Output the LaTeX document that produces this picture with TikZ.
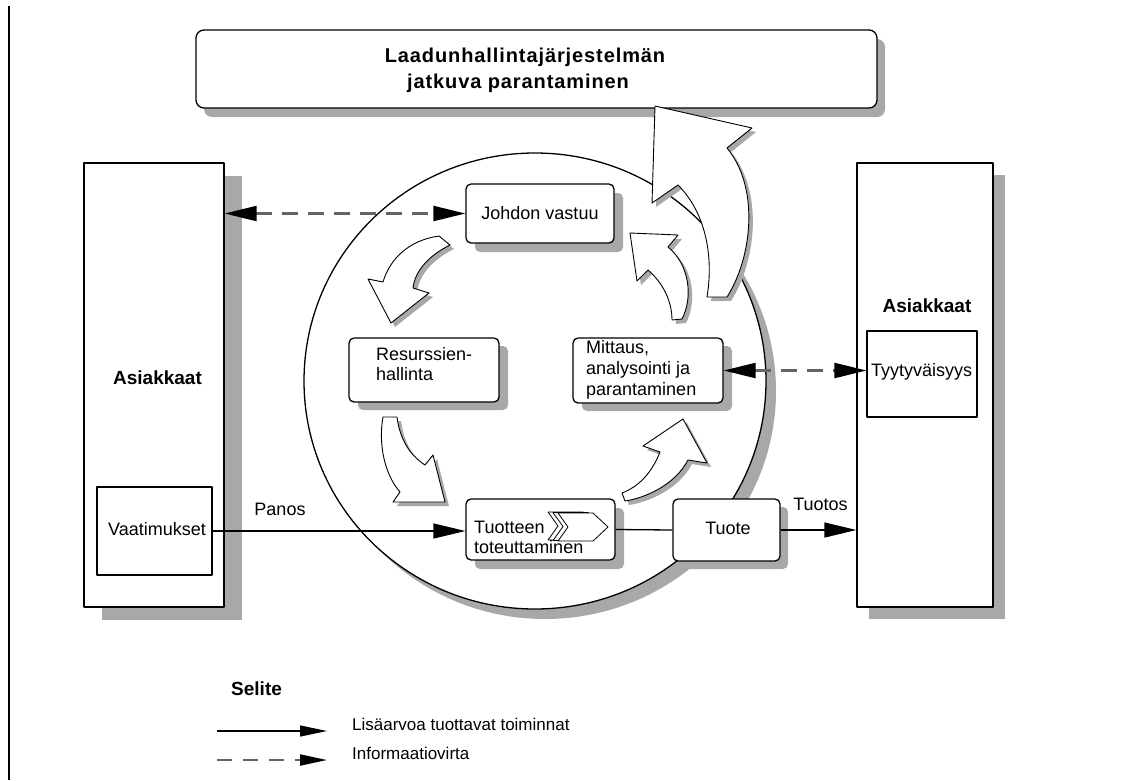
\documentclass[tikz,border=0pt]{standalone}
\usepackage{fontspec}
\setmainfont{Liberation Sans}
\newfontfamily\titlefont[LetterSpace=4.5]{Liberation Sans}
\usetikzlibrary{arrows.meta,shadows}
\definecolor{shadowgray}{RGB}{168,168,168}
\definecolor{dashgray}{RGB}{100,100,100}
\newcommand\blkarrow[1]{\fill[arrowshadow] #1; \draw[blockarrow] #1;}
\newcommand\chevpath[2]{(#1,#2) -- ++(35,0) -- ++(15,14) -- ++(-15,14) -- ++(-35,0) -- ++(10,-14) -- cycle}
\begin{document}
\begin{tikzpicture}[x=1pt,y=-1pt,line join=round,
  txt/.style={font=\fontsize{18}{21}\selectfont, inner sep=0pt},
  btxt/.style={font=\fontsize{19}{22}\selectfont\bfseries, inner sep=0pt},
  titletxt/.style={font=\fontsize{20}{23}\selectfont\titlefont\bfseries, inner sep=0pt},
  legtxt/.style={font=\fontsize{17}{20}\selectfont, inner sep=0pt},
  shad/.style 2 args={drop shadow={shadow xshift=#1pt, shadow yshift=-#2pt, fill=shadowgray, opacity=1}},
  plainbox/.style={draw, line width=1.3pt, fill=white, inner sep=0pt},
  procbox/.style={plainbox, rounded corners=5pt},
  blockarrow/.style={draw, line width=0.9pt, fill=white},
  arrowshadow/.style={fill=shadowgray, shift={(4,4)}},
  chevron/.style={draw, line width=0.8pt, fill=white},
  flowline/.style={line width=1.3pt, >={Triangle[length=32pt,width=15pt,color=black]}},
  infoline/.style={flowline, line width=2.2pt, draw=dashgray, dash pattern=on 16pt off 10pt},
  legflow/.style={line width=1.3pt, >={Triangle[length=27pt,width=11pt,color=black]}},
  leginfo/.style={legflow, line width=2.2pt, draw=dashgray, dash pattern=on 15pt off 11pt}
]
\useasboundingbox (0,0) rectangle (1140,780);
\fill[white] (0,0) rectangle (1140,780);

% left margin rule
\draw[line width=2pt] (8.5,6) -- (8.5,780);

% title box
\node[procbox, rounded corners=8pt, shad={8}{9}, minimum width=681pt, minimum height=78pt] (title) at (536.5,69) {};
\node[titletxt, anchor=base] (titleA) at (525,62.5) {Laadunhallintajärjestelmän};
\node[titletxt, anchor=base] (titleB) at (518,88.5) {jatkuva parantaminen};

% customer boxes
\node[plainbox, shad={18}{13}, minimum width=140pt, minimum height=444pt] (lbox) at (154,385) {};
\node[btxt, anchor=base] (lboxt) at (157.5,384.5) {Asiakkaat};
\node[plainbox, minimum width=115pt, minimum height=88pt] (vaat) at (154.5,531) {};
\node[txt, anchor=base] (vaatt) at (157,535) {Vaatimukset};

\node[plainbox, shad={12}{12}, minimum width=136pt, minimum height=444pt] (rbox) at (925,385) {};
\node[btxt, anchor=base] (rboxt) at (927,312) {Asiakkaat};
\node[plainbox, minimum width=110pt, minimum height=86pt] (tyy) at (922,374) {};
\node[txt, anchor=base] (tyyt) at (921.5,376.5) {Tyytyväisyys};

% process circle
\fill[shadowgray] (545,391) ellipse [x radius=231, y radius=228];
\draw[line width=1.3pt, fill=white] (535,381) ellipse [x radius=231, y radius=228];

% big improvement arrow
\blkarrow{(707,297) -- (727,297) .. controls (752,258) and (760,188) .. (727,148) -- (752,128) -- (655,106) -- (652,203) -- (678,185) .. controls (705,212) and (714,255) .. (707,297) -- cycle}

% process boxes
\node[procbox, shad={9}{9}, minimum width=148pt, minimum height=59pt] (johdon) at (540,213.5) {};
\node[txt, anchor=base] (johdont) at (540,219.5) {Johdon vastuu};

\node[procbox, shad={9}{8}, minimum width=150pt, minimum height=64pt] (resur) at (424,370) {};
\node[txt, anchor=base west] (resurA) at (376,360) {Resurssien-};
\node[txt, anchor=base west] (resurB) at (376,380.5) {hallinta};

\node[procbox, shad={9}{8}, minimum width=150pt, minimum height=65pt] (mitt) at (648,370.5) {};
\node[txt, anchor=base west] (mittA) at (586,353) {Mittaus,};
\node[txt, anchor=base west] (mittB) at (586,374) {analysointi ja};
\node[txt, anchor=base west] (mittC) at (586,395) {parantaminen};

\node[procbox, shad={9}{9}, minimum width=149pt, minimum height=61pt] (tuott) at (540.5,529.5) {};
\draw[chevron] \chevpath{548}{512};
\draw[chevron] \chevpath{553}{512.5};
\draw[chevron] \chevpath{558}{513};
\node[txt, anchor=base west] (tuottA) at (474,533) {Tuotteen};
\node[txt, anchor=base west] (tuottB) at (474,553) {toteuttaminen};

% cycle arrows
\blkarrow{(439,236) -- (450,245) .. controls (430,255) and (415,270) .. (413,288) -- (429,293) -- (391,323) -- (368,279) -- (383,282) .. controls (390,258) and (410,240) .. (439,236) -- cycle}
\blkarrow{(383,417) -- (397,417) .. controls (400,440) and (410,455) .. (425,465) -- (433,455) -- (445,502) -- (393,502) -- (400,492) .. controls (385,475) and (378,445) .. (383,417) -- cycle}
\blkarrow{(622,493) -- (625,501) .. controls (645,498) and (675,485) .. (688,460) -- (707,463) -- (683,419) -- (643,446) -- (660,452) .. controls (652,472) and (640,486) .. (622,493) -- cycle}
\blkarrow{(672,320) -- (682,319) .. controls (693,298) and (690,265) .. (668,247) -- (678,235) -- (630,233) -- (637,281) -- (648,270) .. controls (662,282) and (672,300) .. (672,320) -- cycle}

% product box
\node[procbox, shad={8}{8}, minimum width=107pt, minimum height=62pt] (tuote) at (726.5,530) {};
\node[txt, anchor=base] (tuotet) at (728,534) {Tuote};

% connectors
\draw[infoline, <->] (johdon.west -| lbox.east) -- (johdon.west);
\draw[infoline, <->] (mitt.east) -- (mitt.east -| tyy.west);
\draw[flowline, ->] (vaat.east) -- (vaat.east -| tuott.west);
\draw[flowline] (tuott.east) -- (tuote.west);
\draw[flowline, ->] (tuote.east) -- (tuote.east -| rbox.west);
\node[txt, anchor=base] (panos) at (280,515) {Panos};
\node[txt, anchor=base] (tuotos) at (820.5,510) {Tuotos};

% legend
\node[btxt, anchor=base west] (selite) at (231,695) {Selite};
\coordinate (legAs) at (217,731);
\coordinate (legAe) at (327,731);
\coordinate (legBs) at (217,760);
\coordinate (legBe) at (327,760);
\draw[legflow, ->] (legAs) -- (legAe);
\draw[leginfo, ->] (legBs) -- (legBe);
\node[legtxt, anchor=base west] (legA) at (352,730) {Lisäarvoa tuottavat toiminnat};
\node[legtxt, anchor=base west] (legB) at (352,759) {Informaatiovirta};
\end{tikzpicture}
\end{document}
